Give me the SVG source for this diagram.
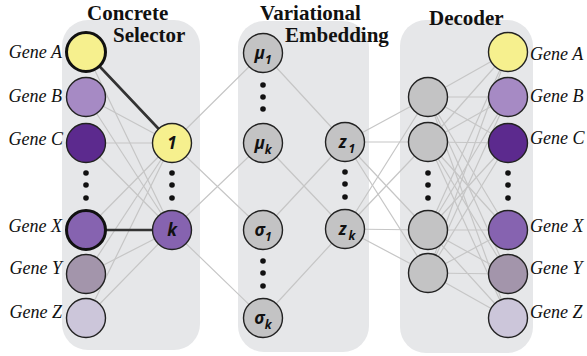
<svg xmlns="http://www.w3.org/2000/svg" width="587" height="356" viewBox="0 0 587 356">
  <style>
    .panel { fill: #e6e7e9; }
    .title { font-family: "Liberation Serif", "Times New Roman", serif; font-weight: bold; font-size: 21px; fill: #111; }
    .gene { font-family: "Liberation Serif", "Times New Roman", serif; font-style: italic; font-size: 18px; fill: #111; }
    .edge { stroke: #c6c6c6; stroke-width: 1.2; fill: none; }
    .edge-sel { stroke: #333; stroke-width: 2.6; fill: none; }
    .node { stroke: #222; stroke-width: 1.4; }
    .node-sel { stroke: #111; stroke-width: 3; }
    .grey { fill: #c3c3c4; }
    .lbl { font-family: "Open Sans", "DejaVu Sans", sans-serif; font-weight: bold; font-style: italic; font-size: 17px; fill: #111; text-anchor: middle; }
    .sub { font-family: "Open Sans", "DejaVu Sans", sans-serif; font-weight: bold; font-style: italic; font-size: 12px; fill: #111; }
    .dot { fill: #111; }
  </style>

  <!-- background panels -->
  <g id="panels">
    <rect class="panel" x="62" y="20" width="138" height="330" rx="26"/>
    <rect class="panel" x="238" y="21" width="131" height="331" rx="26"/>
    <rect class="panel" x="400" y="20" width="133" height="333" rx="26"/>
  </g>

  <!-- titles -->
  <g id="titles">
    <text class="title" x="87" y="20">Concrete</text>
    <text class="title" x="113" y="42">Selector</text>
    <text class="title" x="260" y="20">Variational</text>
    <text class="title" x="285" y="42">Embedding</text>
    <text class="title" x="429" y="25">Decoder</text>
  </g>

  <!-- connectors -->
  <g id="connectors">
    <!-- genes to selector -->
    <path class="edge" d="M86 52L172 143M86 97L172 143M86 143L172 143M86 230L172 143M86 274L172 143M86 318L172 143"/>
    <path class="edge" d="M86 52L172 230M86 97L172 230M86 143L172 230M86 230L172 230M86 274L172 230M86 318L172 230"/>
    <path class="edge-sel" d="M86 52L172 143M86 230L172 230"/>
    <!-- selector to mean / sigma -->
    <path class="edge" d="M172 143L263 53M172 143L263 230M172 230L263 143M172 230L263 318"/>
    <!-- mean / sigma to latent -->
    <path class="edge" d="M263 53L345 142M263 230L345 142M263 143L345 229M263 318L345 229"/>
    <!-- latent to hidden -->
    <path class="edge" d="M345 142L428 97M345 142L428 142M345 142L428 230M345 142L428 273"/>
    <path class="edge" d="M345 229L428 97M345 229L428 142M345 229L428 230M345 229L428 273"/>
    <!-- hidden to output -->
    <path class="edge" d="M428 97L508 52M428 97L508 97M428 97L508 143M428 97L508 230M428 97L508 274M428 97L508 318"/>
    <path class="edge" d="M428 142L508 52M428 142L508 97M428 142L508 143M428 142L508 230M428 142L508 274M428 142L508 318"/>
    <path class="edge" d="M428 230L508 52M428 230L508 97M428 230L508 143M428 230L508 230M428 230L508 274M428 230L508 318"/>
    <path class="edge" d="M428 273L508 52M428 273L508 97M428 273L508 143M428 273L508 230M428 273L508 274M428 273L508 318"/>
  </g>

  <!-- input genes -->
  <g id="in-gene-a"><circle class="node-sel" cx="86" cy="52" r="19.5" fill="#f6f08e"/><text class="gene" x="62" y="58" text-anchor="end">Gene A</text></g>
  <g id="in-gene-b"><circle class="node" cx="86" cy="97" r="19.5" fill="#a68ac4"/><text class="gene" x="62" y="102" text-anchor="end">Gene B</text></g>
  <g id="in-gene-c"><circle class="node" cx="86" cy="143" r="19.5" fill="#5c2a8e"/><text class="gene" x="63" y="145" text-anchor="end">Gene C</text></g>
  <g id="in-gene-x"><circle class="node-sel" cx="86" cy="230" r="19.5" fill="#8663b0"/><text class="gene" x="62" y="232" text-anchor="end">Gene X</text></g>
  <g id="in-gene-y"><circle class="node" cx="86" cy="274" r="19.5" fill="#a395ab"/><text class="gene" x="62" y="274" text-anchor="end">Gene Y</text></g>
  <g id="in-gene-z"><circle class="node" cx="86" cy="318" r="19.5" fill="#ccc6da"/><text class="gene" x="62" y="318" text-anchor="end">Gene Z</text></g>
  <g id="in-dots"><circle class="dot" cx="86" cy="173" r="2.8"/><circle class="dot" cx="86" cy="185" r="2.8"/><circle class="dot" cx="86" cy="198" r="2.8"/></g>

  <!-- selector -->
  <g id="sel-1"><circle class="node" cx="172" cy="143" r="19.5" fill="#f6f08e"/><text class="lbl" x="172" y="149">1</text></g>
  <g id="sel-k"><circle class="node" cx="172" cy="230" r="19.5" fill="#8663b0"/><text class="lbl" x="172" y="236">k</text></g>
  <g id="sel-dots"><circle class="dot" cx="172" cy="173" r="2.8"/><circle class="dot" cx="172" cy="185" r="2.8"/><circle class="dot" cx="172" cy="198" r="2.8"/></g>

  <!-- variational embedding -->
  <g id="mu-1"><circle class="node grey" cx="263" cy="53" r="19.5"/><text class="lbl" x="263" y="59">μ<tspan class="sub" dy="5">1</tspan></text></g>
  <g id="mu-k"><circle class="node grey" cx="263" cy="143" r="19.5"/><text class="lbl" x="263" y="149">μ<tspan class="sub" dy="5">k</tspan></text></g>
  <g id="mu-dots"><circle class="dot" cx="263" cy="85" r="2.8"/><circle class="dot" cx="263" cy="97" r="2.8"/><circle class="dot" cx="263" cy="109" r="2.8"/></g>
  <g id="sigma-1"><circle class="node grey" cx="263" cy="230" r="19.5"/><text class="lbl" x="263" y="236">σ<tspan class="sub" dy="5">1</tspan></text></g>
  <g id="sigma-k"><circle class="node grey" cx="263" cy="318" r="19.5"/><text class="lbl" x="263" y="324">σ<tspan class="sub" dy="5">k</tspan></text></g>
  <g id="sigma-dots"><circle class="dot" cx="263" cy="261" r="2.8"/><circle class="dot" cx="263" cy="273" r="2.8"/><circle class="dot" cx="263" cy="286" r="2.8"/></g>
  <g id="z-1"><circle class="node grey" cx="345" cy="142" r="19.5"/><text class="lbl" x="347" y="148">z<tspan class="sub" dy="5" dx="2">1</tspan></text></g>
  <g id="z-k"><circle class="node grey" cx="345" cy="229" r="19.5"/><text class="lbl" x="347" y="235">z<tspan class="sub" dy="5" dx="2">k</tspan></text></g>
  <g id="z-dots"><circle class="dot" cx="345" cy="172" r="2.8"/><circle class="dot" cx="345" cy="184" r="2.8"/><circle class="dot" cx="345" cy="197" r="2.8"/></g>

  <!-- decoder hidden layer -->
  <g id="hid-1"><circle class="node grey" cx="428" cy="97" r="19.5"/></g>
  <g id="hid-2"><circle class="node grey" cx="428" cy="142" r="19.5"/></g>
  <g id="hid-3"><circle class="node grey" cx="428" cy="230" r="19.5"/></g>
  <g id="hid-4"><circle class="node grey" cx="428" cy="273" r="19.5"/></g>
  <g id="hid-dots"><circle class="dot" cx="428" cy="173" r="2.8"/><circle class="dot" cx="428" cy="185" r="2.8"/><circle class="dot" cx="428" cy="198" r="2.8"/></g>

  <!-- reconstructed genes -->
  <g id="out-gene-a"><circle class="node" cx="508" cy="52" r="19.5" fill="#f6f08e"/><text class="gene" x="530" y="60">Gene A</text></g>
  <g id="out-gene-b"><circle class="node" cx="508" cy="97" r="19.5" fill="#a68ac4"/><text class="gene" x="530" y="102">Gene B</text></g>
  <g id="out-gene-c"><circle class="node" cx="508" cy="143" r="19.5" fill="#5c2a8e"/><text class="gene" x="530" y="144">Gene C</text></g>
  <g id="out-gene-x"><circle class="node" cx="508" cy="230" r="19.5" fill="#8663b0"/><text class="gene" x="530" y="232">Gene X</text></g>
  <g id="out-gene-y"><circle class="node" cx="508" cy="274" r="19.5" fill="#a395ab"/><text class="gene" x="530" y="274">Gene Y</text></g>
  <g id="out-gene-z"><circle class="node" cx="508" cy="318" r="19.5" fill="#ccc6da"/><text class="gene" x="530" y="318">Gene Z</text></g>
  <g id="out-dots"><circle class="dot" cx="508" cy="173" r="2.8"/><circle class="dot" cx="508" cy="185" r="2.8"/><circle class="dot" cx="508" cy="198" r="2.8"/></g>
</svg>
